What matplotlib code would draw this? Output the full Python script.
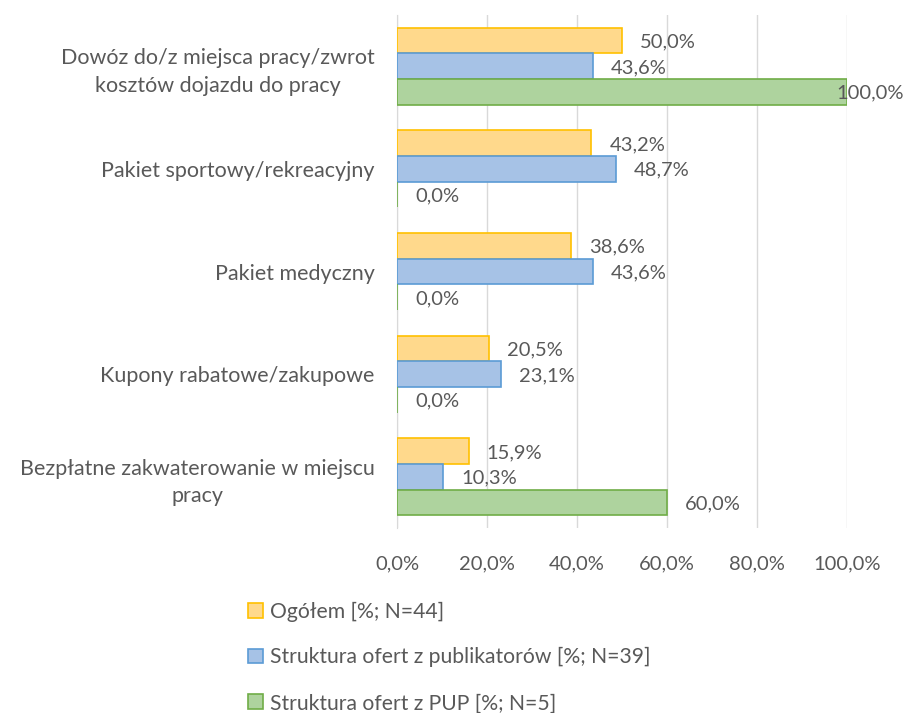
import numpy as np
import matplotlib.pyplot as plt
from matplotlib.patches import Patch

categories = [
    "Dowóz do/z miejsca pracy/zwrot\nkosztów dojazdu do pracy",
    "Pakiet sportowy/rekreacyjny",
    "Pakiet medyczny",
    "Kupony rabatowe/zakupowe",
    "Bezpłatne zakwaterowanie w miejscu\npracy",
]
ogolem = [50.0, 43.2, 38.6, 20.5, 15.9]
publikatory = [43.6, 48.7, 43.6, 23.1, 10.3]
pup = [100.0, 0.0, 0.0, 0.0, 60.0]
series_names = [
    "Ogółem [%; N=44]",
    "Struktura ofert z publikatorów [%; N=39]",
    "Struktura ofert z PUP [%; N=5]",
]
ticks = [0, 20, 40, 60, 80, 100]

fills = ["#FFD98C", "#A6C2E6", "#AED39E"]
edges = ["#FFC000", "#5B9BD5", "#70AD47"]
text_col = "#595959"

plt.rcParams["font.family"] = ["Lato", "DejaVu Sans"]

fig = plt.figure(figsize=(9.05, 7.13), dpi=100)
ax = fig.add_axes([397 / 905, 1 - 528 / 713, 450 / 905, 513 / 713])

y = np.arange(len(categories))
h = 0.25
all_series = [ogolem, publikatory, pup]
for i, vals in enumerate(all_series):
    pos = y + (i - 1) * h
    ax.barh(pos, vals, height=h, color=fills[i], edgecolor=edges[i], linewidth=1.2,
            label=series_names[i], zorder=3)
    for p, v in zip(pos, vals):
        off = 13 if v < 95 else -8
        ax.annotate(f"{v:.1f}%".replace(".", ","), xy=(v, p), xytext=(off, -1),
                    textcoords="offset points", ha="left", va="center",
                    fontsize=14.5, color=text_col, zorder=4, annotation_clip=False)

ax.set_ylim(len(categories) - 0.5, -0.5)
ax.set_xlim(0, 100)
ax.set_xticks(ticks)
ax.set_xticklabels([f"{t:.1f}%".replace(".", ",") for t in ticks], fontsize=14.5)
ax.set_yticks(y)
ax.set_yticklabels(categories, multialignment="center", linespacing=1.45, fontsize=15.5)
ax.tick_params(axis="both", length=0, labelcolor=text_col)
ax.tick_params(axis="x", pad=20)
ax.tick_params(axis="y", pad=16)
ax.grid(axis="x", color="#D9D9D9", linewidth=1, zorder=0)
for s in ["top", "right", "bottom"]:
    ax.spines[s].set_visible(False)
ax.spines["left"].set_color("#D9D9D9")

handles = [Patch(facecolor=fills[i], edgecolor=edges[i], linewidth=1.2) for i in range(3)]
fig.legend(handles, series_names, loc="upper left", bbox_to_anchor=(240 / 905, 1 - 593 / 713),
           frameon=False, fontsize=15.2, labelcolor=text_col, handlelength=0.7, handleheight=0.7,
           handletextpad=0.3, labelspacing=1.22, borderaxespad=0)

fig.savefig("out.png", dpi=100)
